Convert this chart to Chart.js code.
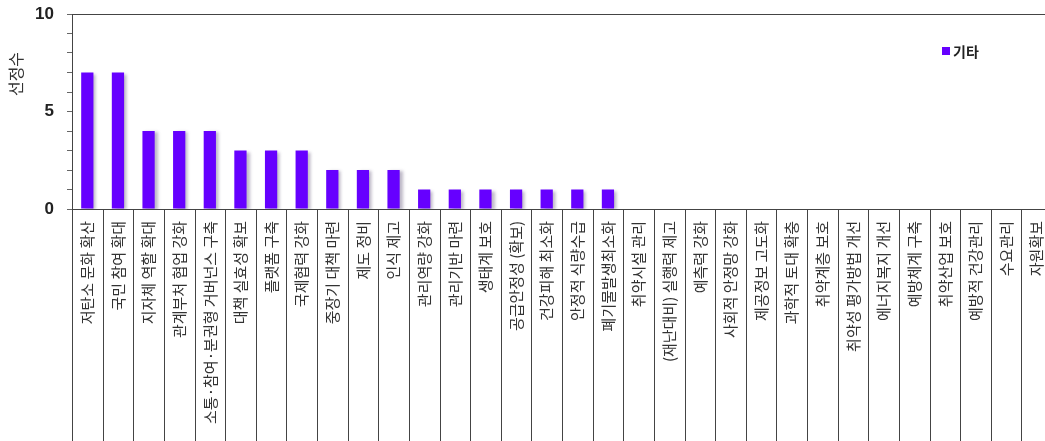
<!DOCTYPE html>
<html>
<head>
<meta charset="utf-8">
<script src="https://cdn.jsdelivr.net/npm/chart.js@4"></script>
<style>
    html, body { margin: 0; padding: 0; background: #fff; overflow: hidden; }
    #wrap { position: relative; width: 1052px; height: 441px; }
    #legend {
        position: absolute; left: 942px; top: 41px;
        font: bold 14px "Noto Sans CJK KR", sans-serif; color: #222;
        display: flex; align-items: center;
    }
    #legend span.box { width: 8px; height: 8px; background: #6600ff; margin-right: 3px; display: inline-block; }
</style>
</head>
<body>
<div id="wrap">
    <canvas id="chart" width="1052" height="441"></canvas>
    <div id="legend"><span class="box"></span>기타</div>
</div>
<script>
// Categories and values
const categories = [
    '저탄소 문화 확산', '국민 참여 확대', '지자체 역할 확대', '관계부처 협업 강화',
    '소통·참여·분권형 거버넌스 구축', '대책 실효성 확보', '플랫폼 구축', '국제협력 강화',
    '중장기 대책 마련', '제도 정비', '인식 제고', '관리역량 강화', '관리기반 마련',
    '생태계 보호', '공급안정성 (확보)', '건강피해 최소화', '안정적 식량수급',
    '폐기물발생최소화', '취약시설 관리', '(재난대비) 실행력 제고', '예측력 강화',
    '사회적 안정망 강화', '제공정보 고도화', '과학적 토대 확충', '취약계층 보호',
    '취약성 평가방법 개선', '에너지복지 개선', '예방체계 구축', '취약산업 보호',
    '예방적 건강관리', '수요관리', '자원확보'
];
const counts = [7, 7, 4, 4, 4, 3, 3, 3, 2, 2, 2, 1, 1, 1, 1, 1, 1, 1,
    0, 0, 0, 0, 0, 0, 0, 0, 0, 0, 0, 0, 0, 0];
const yTickLabels = [0, 5, 10];
const seriesName = '기타';
const yTitle = '선정수';

const barColor = '#6600ff';
const lineColor = '#444';

// Draws frame top line, category separators, axis title, and a soft bar shadow
const decorations = {
    id: 'decorations',
    beforeDatasetsDraw(chart) {
        const ctx = chart.ctx;
        ctx.save();
        ctx.shadowColor = 'rgba(110, 100, 130, 0.45)';
        ctx.shadowOffsetX = 3;
        ctx.shadowOffsetY = 1;
        ctx.shadowBlur = 3;
    },
    afterDatasetsDraw(chart) {
        chart.ctx.restore();
    },
    afterDraw(chart) {
        const ctx = chart.ctx;
        const area = chart.chartArea;
        const x = chart.scales.x;
        ctx.save();
        ctx.strokeStyle = lineColor;
        ctx.lineWidth = 1;
        // top frame line
        ctx.beginPath();
        ctx.moveTo(area.left, area.top + 0.5);
        ctx.lineTo(area.right, area.top + 0.5);
        ctx.stroke();
        // separators in the label area
        const half = (x.getPixelForValue(1) - x.getPixelForValue(0)) / 2;
        ctx.strokeStyle = '#444';
        for (let i = 0; i <= categories.length; i++) {
            const px = Math.round(x.getPixelForValue(i) - half) + 0.5;
            ctx.beginPath();
            ctx.moveTo(px, area.bottom);
            ctx.lineTo(px, chart.height);
            ctx.stroke();
        }
        // y title
        ctx.translate(16, 74);
        ctx.rotate(-Math.PI / 2);
        ctx.fillStyle = '#333';
        ctx.font = '16px "Noto Sans CJK KR"';
        ctx.textAlign = 'center';
        ctx.textBaseline = 'middle';
        ctx.fillText(yTitle, 0, 0);
        ctx.restore();
    }
};

const chart = new Chart(document.getElementById('chart'), {
    type: 'bar',
    data: {
        labels: categories,
        datasets: [{
            label: seriesName,
            data: counts,
            backgroundColor: barColor,
            barPercentage: 0.4,
            categoryPercentage: 1
        }]
    },
    options: {
        responsive: false,
        animation: false,
        layout: { padding: { top: 14, right: 0, left: 0, bottom: 0 } },
        plugins: {
            legend: { display: false },
            tooltip: { enabled: false }
        },
        scales: {
            x: {
                grid: { display: false },
                border: { display: true, color: lineColor, width: 1 },
                ticks: {
                    autoSkip: false,
                    minRotation: 90,
                    maxRotation: 90,
                    padding: 4,
                    color: '#333',
                    font: { family: '"Noto Sans CJK KR"', size: 15 }
                },
                afterFit(scale) { scale.height = 232; scale.paddingRight = 0; }
            },
            y: {
                min: 0,
                max: 10,
                grid: { drawOnChartArea: false, tickLength: 5, color: '#666' },
                border: { display: true, color: lineColor, width: 1 },
                ticks: {
                    stepSize: 1,
                    autoSkip: false,
                    padding: 13,
                    color: '#222',
                    font: { family: '"Liberation Sans", Arial', size: 17, weight: 'bold' },
                    callback: v => yTickLabels.includes(v) ? String(v) : ''
                },
                afterFit(scale) { scale.width = 72; scale.paddingTop = 0; scale.paddingBottom = 0; }
            }
        }
    },
    plugins: [decorations]
});
</script>
</body>
</html>
